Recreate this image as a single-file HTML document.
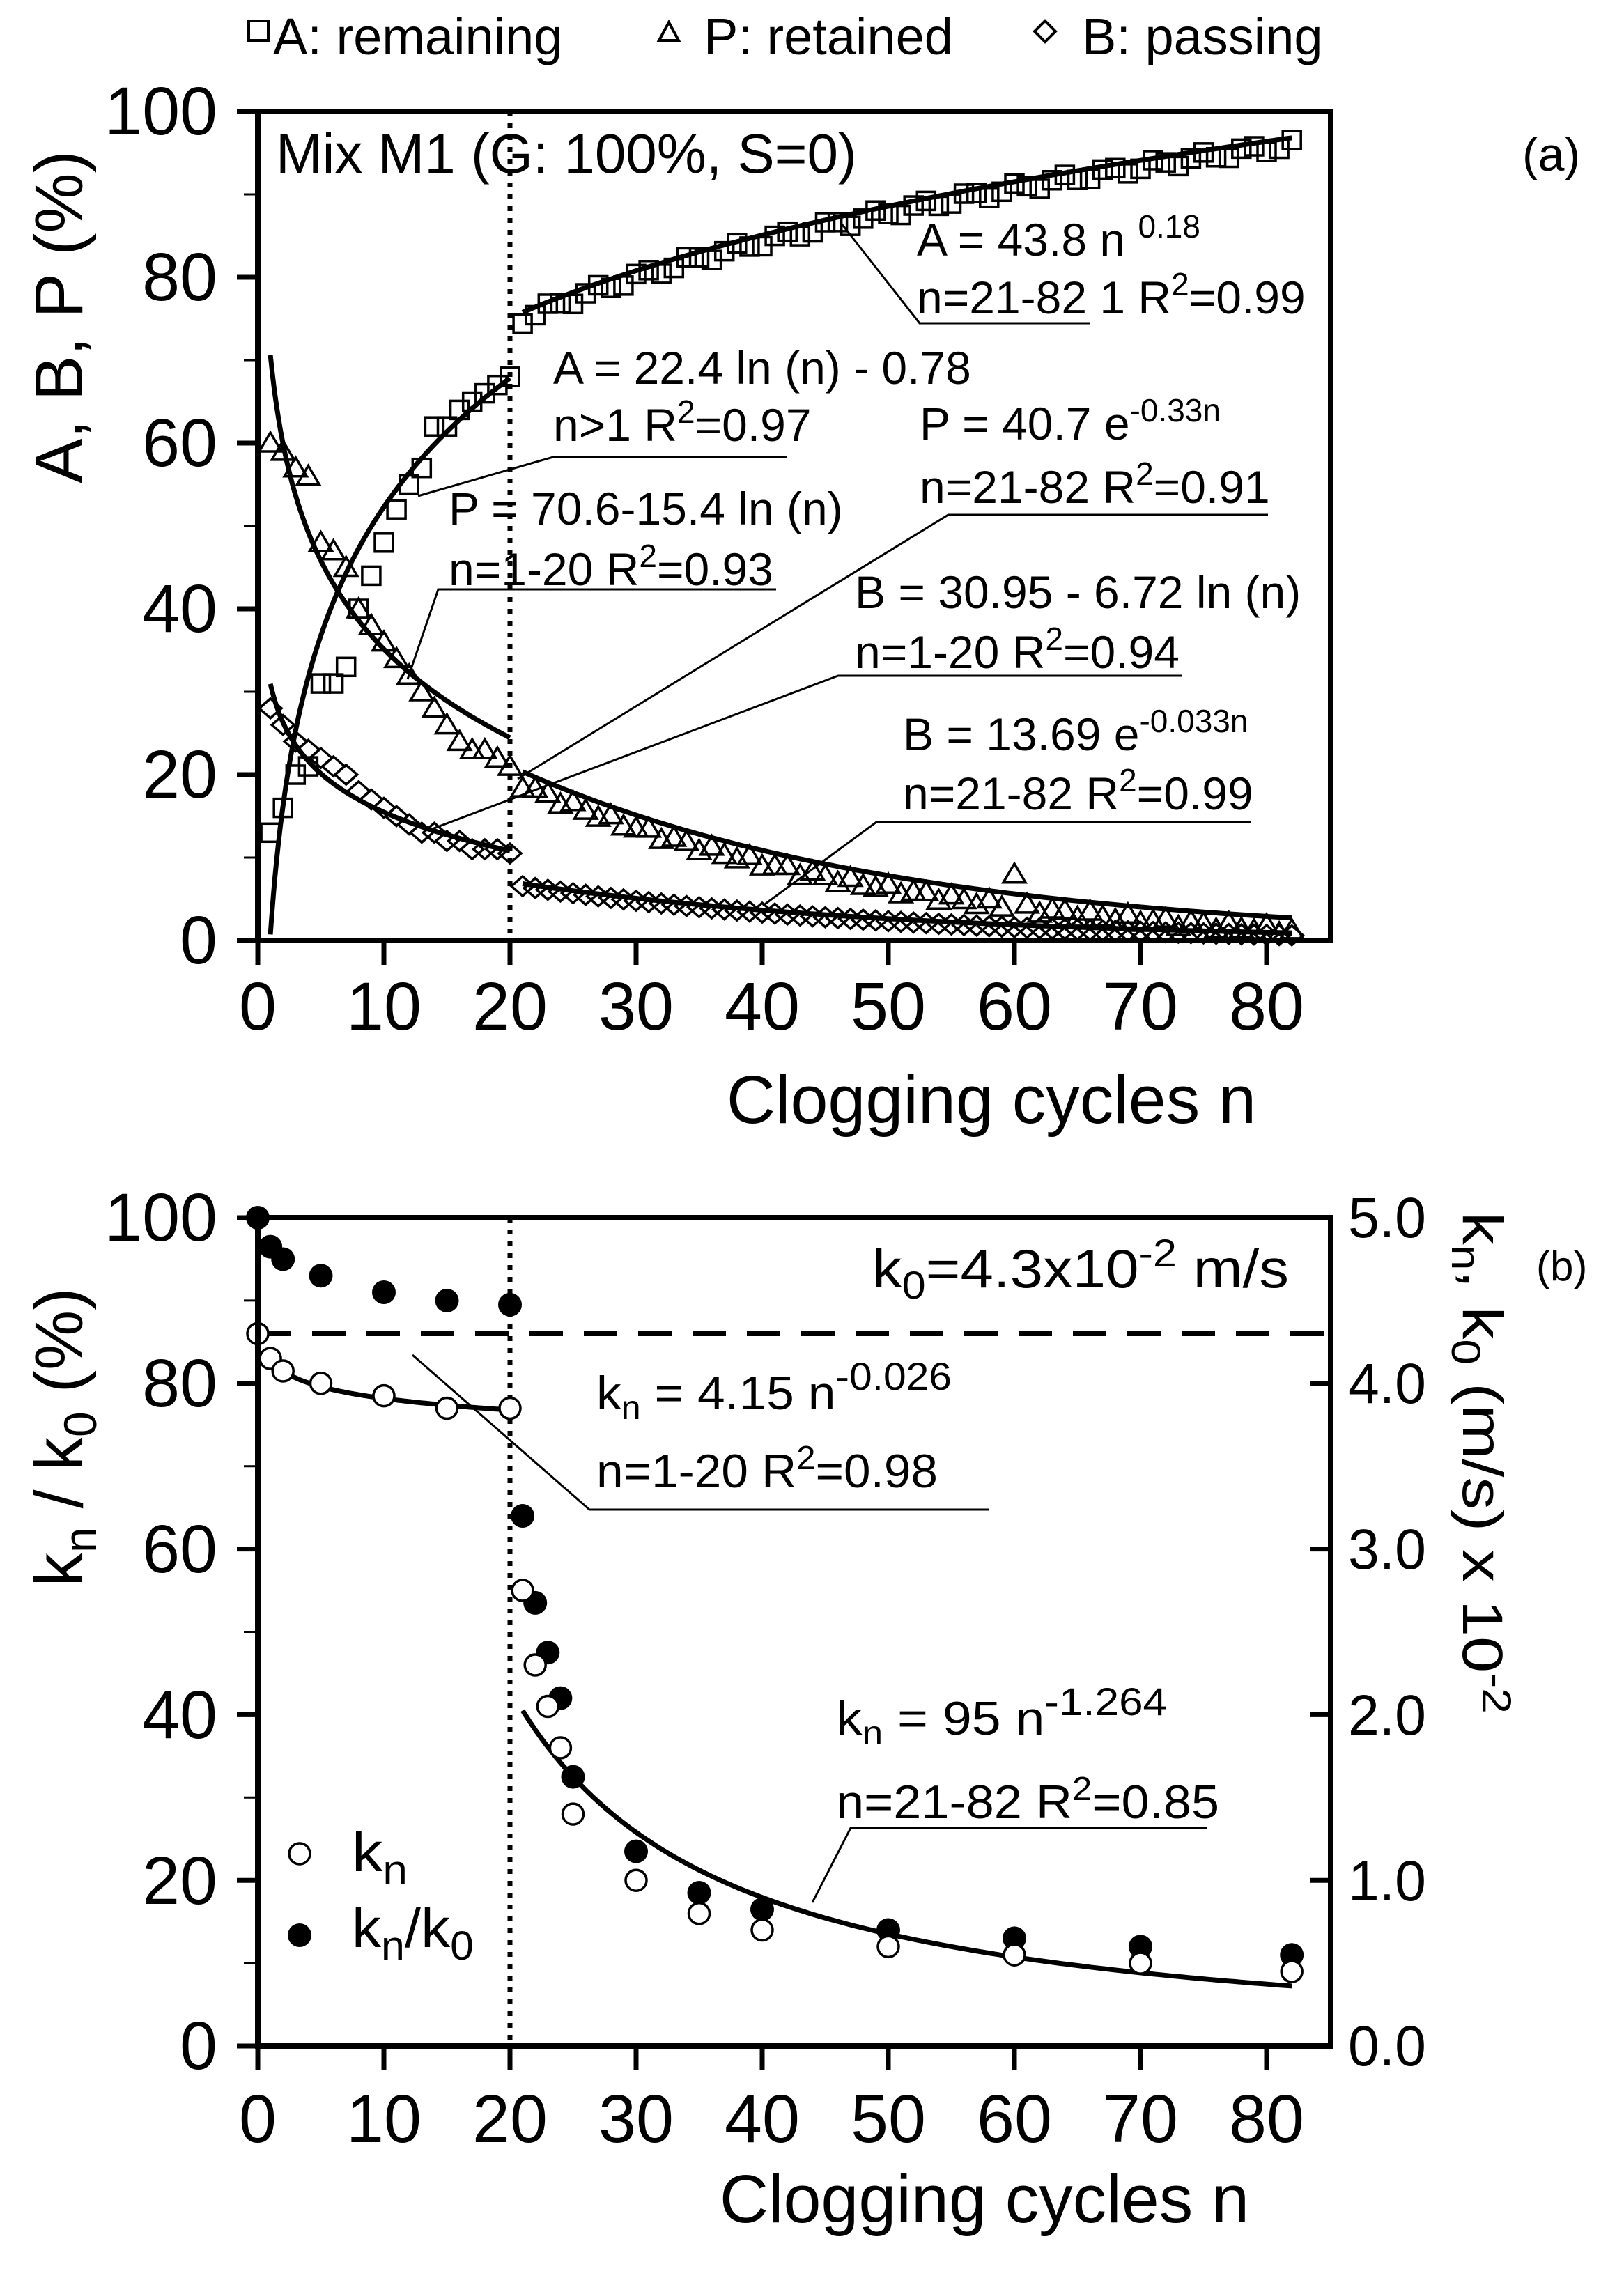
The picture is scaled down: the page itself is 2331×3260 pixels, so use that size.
<!DOCTYPE html>
<html><head><meta charset="utf-8"><style>
html,body{margin:0;padding:0;background:#fff}
svg{display:block}
text{font-family:"Liberation Sans",Arial,sans-serif;fill:#000}
</style></head><body>
<svg id="s" width="2331" height="3260" viewBox="0 0 2331 3260" xmlns="http://www.w3.org/2000/svg">
<g id="ga"></g>
<rect x="357" y="30" width="28" height="28" fill="none" stroke="#000" stroke-width="4"/>
<text x="392" y="78" font-size="74">A: remaining</text>
<polygon points="946,58 974,58 960,32" fill="none" stroke="#000" stroke-width="4"/>
<text x="1010" y="78" font-size="74">P: retained</text>
<polygon points="1500,30 1515,45 1500,60 1485,45" fill="none" stroke="#000" stroke-width="4"/>
<text x="1553" y="78" font-size="74">B: passing</text>
<rect x="370" y="160" width="1540" height="1190" fill="none" stroke="#000" stroke-width="8"/>
<text x="396" y="248" font-size="80">Mix M1 (G: 100%, S=0)</text>
<text x="2185" y="245" font-size="68">(a)</text>
<g font-size="97" text-anchor="end">
<text x="312" y="193">100</text><text x="312" y="431">80</text><text x="312" y="669">60</text>
<text x="312" y="907">40</text><text x="312" y="1145">20</text><text x="312" y="1383">0</text>
</g>
<g font-size="97" text-anchor="middle">
<text x="370" y="1478">0</text><text x="551" y="1478">10</text><text x="732" y="1478">20</text><text x="913" y="1478">30</text><text x="1094" y="1478">40</text><text x="1275" y="1478">50</text><text x="1456" y="1478">60</text><text x="1637" y="1478">70</text><text x="1818" y="1478">80</text>
</g>
<text x="1423" y="1612" font-size="97" text-anchor="middle">Clogging cycles n</text>
<text transform="translate(118,455) rotate(-90)" font-size="97" text-anchor="middle">A, B, P (%)</text>
<g font-size="66">
<text x="1316" y="367">A = 43.8 n <tspan font-size="46" dy="-26">0.18</tspan></text>
<text x="1316" y="450">n=21-82 1  R<tspan font-size="46" dy="-26">2</tspan><tspan dy="26">=0.99</tspan></text>
<text x="794" y="551">A = 22.4 ln (n) - 0.78</text>
<text x="794" y="633">n&gt;1  R<tspan font-size="46" dy="-26">2</tspan><tspan dy="26">=0.97</tspan></text>
<text x="1320" y="631">P = 40.7 e<tspan font-size="46" dy="-26">-0.33n</tspan></text>
<text x="1320" y="722">n=21-82 R<tspan font-size="46" dy="-26">2</tspan><tspan dy="26">=0.91</tspan></text>
<text x="644" y="753">P = 70.6-15.4 ln (n)</text>
<text x="644" y="840">n=1-20 R<tspan font-size="46" dy="-26">2</tspan><tspan dy="26">=0.93</tspan></text>
<text x="1227" y="873">B = 30.95 - 6.72 ln (n)</text>
<text x="1227" y="959">n=1-20 R<tspan font-size="46" dy="-26">2</tspan><tspan dy="26">=0.94</tspan></text>
<text x="1296" y="1077">B = 13.69 e<tspan font-size="46" dy="-26">-0.033n</tspan></text>
<text x="1296" y="1162">n=21-82 R<tspan font-size="46" dy="-26">2</tspan><tspan dy="26">=0.99</tspan></text>
</g>
<g stroke="#000" stroke-width="3" fill="none">
<polyline points="1207,320 1320,464 1564,464"/>
<polyline points="600,712 794,656 1130,656"/>
<polyline points="743,1118 1361,739 1820,739"/>
<polyline points="585,975 629,846 1114,846"/>
<polyline points="620,1190 1203,970 1696,970"/>
<polyline points="1095,1300 1258,1180 1795,1180"/>
</g>

<g id="gb"></g>
<rect x="370" y="1748" width="1540" height="1189" fill="none" stroke="#000" stroke-width="8"/>
<text x="2205" y="1838" font-size="60">(b)</text>
<text x="1252" y="1848" font-size="78" textLength="598" lengthAdjust="spacingAndGlyphs">k<tspan font-size="56" dy="16">0</tspan><tspan dy="-16">=4.3x10</tspan><tspan font-size="56" dy="-30">-2</tspan><tspan dy="30"> m/s</tspan></text>
<g font-size="97" text-anchor="end">
<text x="312" y="1781">100</text><text x="312" y="2019">80</text><text x="312" y="2257">60</text>
<text x="312" y="2495">40</text><text x="312" y="2733">20</text><text x="312" y="2970">0</text>
</g>
<g font-size="82">
<text x="1935" y="1776" textLength="112" lengthAdjust="spacingAndGlyphs">5.0</text>
<text x="1935" y="2014" textLength="112" lengthAdjust="spacingAndGlyphs">4.0</text>
<text x="1935" y="2252" textLength="112" lengthAdjust="spacingAndGlyphs">3.0</text>
<text x="1935" y="2490" textLength="112" lengthAdjust="spacingAndGlyphs">2.0</text>
<text x="1935" y="2728" textLength="112" lengthAdjust="spacingAndGlyphs">1.0</text>
<text x="1935" y="2965" textLength="112" lengthAdjust="spacingAndGlyphs">0.0</text>
</g>
<g font-size="97" text-anchor="middle">
<text x="370" y="3075">0</text><text x="551" y="3075">10</text><text x="732" y="3075">20</text><text x="913" y="3075">30</text><text x="1094" y="3075">40</text><text x="1275" y="3075">50</text><text x="1456" y="3075">60</text><text x="1637" y="3075">70</text><text x="1818" y="3075">80</text>
</g>
<text x="1413" y="3190" font-size="97" text-anchor="middle">Clogging cycles n</text>
<text transform="translate(118,2063) rotate(-90)" font-size="97" text-anchor="middle">k<tspan font-size="66" dy="20">n</tspan><tspan dy="-20"> / k</tspan><tspan font-size="66" dy="20">0</tspan><tspan dy="-20"> (%)</tspan></text>
<text transform="translate(2100,1740) rotate(90)" font-size="82" textLength="720" lengthAdjust="spacingAndGlyphs">k<tspan font-size="58" dy="16">n</tspan><tspan dy="-16">, k</tspan><tspan font-size="58" dy="16">0</tspan><tspan dy="-16"> (m/s) x 10</tspan><tspan font-size="58" dy="-28">-2</tspan></text>
<g font-size="68">
<text x="856" y="2023" textLength="510" lengthAdjust="spacingAndGlyphs">k<tspan font-size="48" dy="14">n</tspan><tspan dy="-14"> = 4.15 n</tspan><tspan font-size="56" dy="-28">-0.026</tspan></text>
<text x="856" y="2135" textLength="490" lengthAdjust="spacingAndGlyphs">n=1-20  R<tspan font-size="48" dy="-26">2</tspan><tspan dy="26">=0.98</tspan></text>
<text x="1200" y="2490" textLength="475" lengthAdjust="spacingAndGlyphs">k<tspan font-size="48" dy="14">n</tspan><tspan dy="-14"> = 95 n</tspan><tspan font-size="56" dy="-28">-1.264</tspan></text>
<text x="1200" y="2610" textLength="550" lengthAdjust="spacingAndGlyphs">n=21-82  R<tspan font-size="48" dy="-26">2</tspan><tspan dy="26">=0.85</tspan></text>
<text x="505" y="2686" font-size="80" textLength="80" lengthAdjust="spacingAndGlyphs">k<tspan font-size="58" dy="18">n</tspan></text>
<text x="505" y="2795" font-size="80" textLength="175" lengthAdjust="spacingAndGlyphs">k<tspan font-size="58" dy="18">n</tspan><tspan dy="-18">/k</tspan><tspan font-size="58" dy="18">0</tspan></text>
</g>
<g stroke="#000" stroke-width="3" fill="none">
<polyline points="592,1945 846,2167 1419,2167"/>
<polyline points="1166,2731 1221,2624 1733,2624"/>
</g>
<circle cx="430" cy="2661" r="15" fill="#fff" stroke="#000" stroke-width="3.5"/>
<circle cx="430" cy="2778" r="17" fill="#000"/>
</svg>
<script>
(function(){
var NS="http://www.w3.org/2000/svg";
function el(p,t,a){var e=document.createElementNS(NS,t);for(var k in a)e.setAttribute(k,a[k]);p.appendChild(e);return e;}
var X=function(n){return 370+n*18.1;};
var Ya=function(v){return 1350-v*11.9;};
var Yb=function(v){return 2937-v*11.89;};
var ga=document.getElementById('ga'), gb=document.getElementById('gb');
for(var i=0;i<=10;i++){var y=Ya(i*10);el(ga,'line',{x1:i%2==0?340:350,x2:370,y1:y,y2:y,stroke:'#000','stroke-width':i%2==0?7:3});}
for(var i=0;i<=8;i++){el(ga,'line',{x1:X(i*10),x2:X(i*10),y1:1350,y2:1385,stroke:'#000','stroke-width':7});}
el(ga,'line',{x1:X(20),x2:X(20),y1:160,y2:1350,stroke:'#000','stroke-width':7,'stroke-dasharray':'7 10'});
var A1=[13,16,20,21,31,31,33,40,44,48,52,55,57,62,62,64,65,66,67,68];
var P1=[60,59,57,56,48,47,45,40,38,36,34,32,30,28,26,24,23,23,22,21];
var B1=[28,26,24,23,22,21,20,18,17,16,15,14,13,13,12,12,11,11,11,10.5];
var g='fill:none;stroke:#000;stroke-width:3.5';
function sq(n,v){el(ga,'rect',{x:X(n)-13,y:Ya(v)-13,width:26,height:26,style:g});}
function tri(n,v){var x=X(n),y=Ya(v);el(ga,'polygon',{points:(x-16)+','+(y+12)+' '+(x+16)+','+(y+12)+' '+x+','+(y-15),style:g});}
function dia(n,v){var x=X(n),y=Ya(v);el(ga,'polygon',{points:x+','+(y-14)+' '+(x+16)+','+y+' '+x+','+(y+14)+' '+(x-16)+','+y,style:g});}
for(var n=1;n<=82;n++){
 var a,p,b;
 if(n<=20){a=A1[n-1];p=P1[n-1];b=B1[n-1];}
 else{a=43.8*Math.pow(n,0.18)-0.8+Math.sin(n*1.7)*0.6;p=40.7*Math.exp(-0.033*n)-1.5+Math.sin(n*2.3)*0.5;if(n==60)p=8;b=13.69*Math.exp(-0.033*n)-0.3;}
 sq(n,a);tri(n,p);dia(n,b);
}
function curve(g0,f,n0,n1,Y){var pts=[];for(var n=n0;n<=n1+1e-9;n+=(n1-n0)/120){pts.push(X(n).toFixed(1)+','+Y(f(n)).toFixed(1));}el(g0,'polyline',{points:pts.join(' '),fill:'none',stroke:'#000','stroke-width':7});}
curve(ga,function(n){return 22.4*Math.log(n)-0.78+1.5;},1,20,Ya);
curve(ga,function(n){return 70.6-15.4*Math.log(n);},1,20,Ya);
curve(ga,function(n){return 30.95-6.72*Math.log(n);},1,20,Ya);
curve(ga,function(n){return 43.8*Math.pow(n,0.18);},21,82,Ya);
curve(ga,function(n){return 40.7*Math.exp(-0.033*n);},21,82,Ya);
curve(ga,function(n){return 13.69*Math.exp(-0.033*n);},21,82,Ya);
for(var i=0;i<=10;i++){var y=Yb(i*10);el(gb,'line',{x1:i%2==0?340:350,x2:370,y1:y,y2:y,stroke:'#000','stroke-width':i%2==0?7:3});
 if(i%2==0)el(gb,'line',{x1:1880,x2:1910,y1:y,y2:y,stroke:'#000','stroke-width':7});}
for(var i=0;i<=8;i++){el(gb,'line',{x1:X(i*10),x2:X(i*10),y1:2937,y2:2972,stroke:'#000','stroke-width':7});}
el(gb,'line',{x1:X(20),x2:X(20),y1:1748,y2:2937,stroke:'#000','stroke-width':7,'stroke-dasharray':'7 10'});
el(gb,'line',{x1:370,x2:1910,y1:Yb(86),y2:Yb(86),stroke:'#000','stroke-width':7,'stroke-dasharray':'48 30'});
var ns=[0,1,2,5,10,15,20,21,22,23,24,25,30,35,40,50,60,70,82];
var ko=[86,83,81.5,80,78.5,77,77,55,46,41,36,28,20,16,14,12,11,10,9];
var kf=[100,96.5,95,93,91,90,89.5,64,53.5,47.5,42,32.5,23.5,18.5,16.5,14,13,12,11];
curve(gb,function(n){return 83*Math.pow(n,-0.026);},1,20,Yb);
curve(gb,function(n){return 20*95*Math.pow(n,-1.264);},21,82,Yb);
for(var i=0;i<ns.length;i++){el(gb,'circle',{cx:X(ns[i]),cy:Yb(kf[i]),r:17,fill:'#000'});}
for(var i=0;i<ns.length;i++){el(gb,'circle',{cx:X(ns[i]),cy:Yb(ko[i]),r:15,fill:'#fff',stroke:'#000','stroke-width':3.5});}
})();
</script>
</body></html>
